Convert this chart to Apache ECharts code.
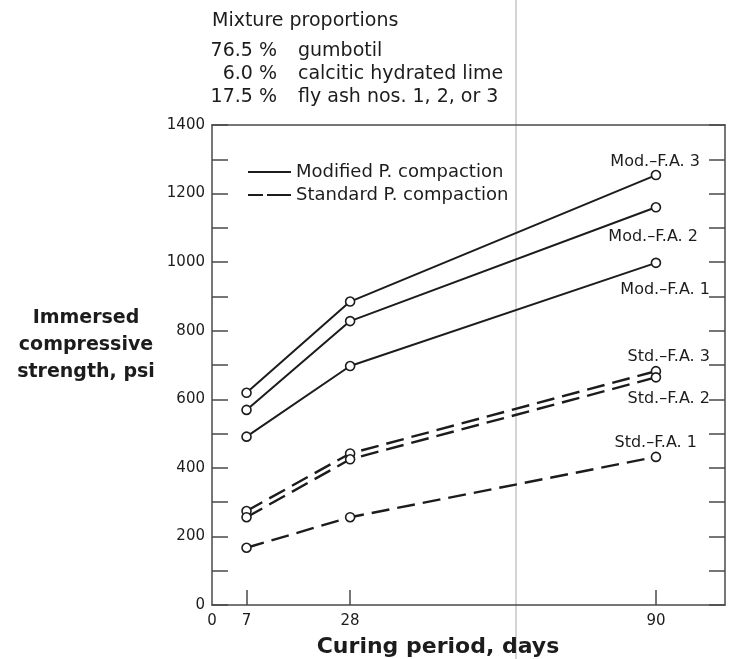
<!DOCTYPE html>
<html>
<head>
<meta charset="utf-8">
<script src="https://cdn.jsdelivr.net/npm/echarts@6/dist/echarts.min.js"></script>
<style>
  html, body { margin: 0; padding: 0; background: #fff; }
  #chart { width: 730px; height: 659px; }
</style>
</head>
<body>
<div id="chart"></div>
<script>
// Curing period (days) at which specimens were tested
const days = [7, 28, 90];

// Immersed compressive strength, psi
const modFA1 = [491, 697, 998];
const modFA2 = [569, 828, 1160];
const modFA3 = [619, 885, 1254];
const stdFA1 = [167, 256, 432];
const stdFA2 = [256, 425, 664];
const stdFA3 = [274, 442, 682];

const curveNames = ['Mod.–F.A. 3', 'Mod.–F.A. 2', 'Mod.–F.A. 1', 'Std.–F.A. 3', 'Std.–F.A. 2', 'Std.–F.A. 1'];
const curveValues = [modFA3, modFA2, modFA1, stdFA3, stdFA2, stdFA1];
const curveIsStandard = [false, false, false, true, true, true];

const legendNames = ['Modified P. compaction', 'Standard P. compaction'];

// Axis ticks and labels
const xTickValues = [7, 28, 90];
const xLabelValues = [0, 7, 28, 90];

// Mixture proportions block
const mixtureTitle = 'Mixture proportions';
const mixturePercents = ['76.5 %', '6.0 %', '17.5 %'];
const mixtureItems = ['gumbotil', 'calcitic hydrated lime', 'fly ash nos. 1, 2, or 3'];

const yTitleLines = ['Immersed', 'compressive', 'strength, psi'];
const xTitle = 'Curing period, days';

const FONT = '"DejaVu Sans", "Liberation Sans", sans-serif';
const INK = '#1c1c1c';
const AXIS = '#4a4a4a';
const DASH = [18, 8];

const chart = echarts.init(document.getElementById('chart'), null, { renderer: 'canvas' });

function curveSeries(i) {
  const std = curveIsStandard[i];
  return {
    name: curveNames[i],
    type: 'line',
    xAxisIndex: 0,
    yAxisIndex: 0,
    data: days.map((d, k) => [d, curveValues[i][k]]),
    symbol: 'circle',
    symbolSize: 9,
    itemStyle: { color: '#ffffff', borderColor: INK, borderWidth: 1.6 },
    lineStyle: { color: INK, width: std ? 2.4 : 2, type: std ? DASH : 'solid' },
    z: 3
  };
}

const series = curveNames.map((_, i) => curveSeries(i));
// Series used only for the key
series.push({
  name: legendNames[0], type: 'line', data: [], symbol: 'none',
  itemStyle: { color: INK },
  lineStyle: { color: INK, width: 2, type: 'solid' }
});
series.push({
  name: legendNames[1], type: 'line', data: [], symbol: 'none',
  itemStyle: { color: INK },
  lineStyle: { color: INK, width: 2.2, type: [15, 4, 24, 4] }
});

const axisLineStyle = { color: AXIS, width: 1.5 };

const option = {
  animation: false,
  backgroundColor: '#ffffff',
  grid: { left: 212, right: 5, top: 125, bottom: 54 },
  legend: {
    data: legendNames,
    orient: 'vertical',
    left: 242,
    top: 158,
    itemWidth: 43,
    itemHeight: 14,
    itemGap: 5,
    itemStyle: { opacity: 0 },
    textStyle: { fontFamily: FONT, fontSize: 18, color: INK },
    selectedMode: false
  },
  xAxis: [
    {
      type: 'value', min: 0, max: 104, position: 'bottom',
      axisLine: { show: true, onZero: false, lineStyle: axisLineStyle },
      axisTick: { show: true, inside: true, length: 15, customValues: xTickValues, lineStyle: axisLineStyle },
      axisLabel: { customValues: xLabelValues, fontFamily: FONT, fontSize: 15, color: INK, margin: 9 },
      splitLine: { show: false }
    },
    {
      type: 'value', min: 0, max: 104, position: 'top',
      axisLine: { show: true, onZero: false, lineStyle: axisLineStyle },
      axisTick: { show: false }, axisLabel: { show: false }, splitLine: { show: false }
    }
  ],
  yAxis: [
    {
      type: 'value', min: 0, max: 1400, interval: 100, position: 'left',
      axisLine: { show: true, onZero: false, lineStyle: axisLineStyle },
      axisTick: { show: true, inside: true, length: 16, lineStyle: axisLineStyle },
      axisLabel: {
        fontFamily: FONT, fontSize: 15, color: INK, margin: 7,
        formatter: v => (v % 200 === 0 ? String(v) : '')
      },
      splitLine: { show: false }
    },
    {
      type: 'value', min: 0, max: 1400, interval: 100, position: 'right',
      axisLine: { show: true, onZero: false, lineStyle: axisLineStyle },
      axisTick: { show: true, inside: true, length: 16, lineStyle: axisLineStyle },
      axisLabel: { show: false }, splitLine: { show: false }
    }
  ],
  series: series
};

chart.setOption(option);

// Curve names sit beside the 90-day points; offsets are [right edge dx, dy] from the point
const labelOffsets = [[44, -13], [42, 30], [54, 27], [54, -14], [54, 22], [41, -14]];

const graphics = [];

// Faint vertical crease line across the sheet
graphics.push({
  type: 'rect', silent: true, z: -10,
  shape: { x: 515, y: 0, width: 2, height: 659 },
  style: { fill: '#d4d4d4' }
});

const mixFont = '19px ' + FONT;
graphics.push({
  type: 'text', silent: true,
  style: { text: mixtureTitle, x: 212, y: 21, font: mixFont, fill: INK, textAlign: 'left', textVerticalAlign: 'middle' }
});
mixturePercents.forEach((p, i) => {
  const y = 51 + i * 23;
  graphics.push({
    type: 'text', silent: true,
    style: { text: p, x: 277, y: y, font: mixFont, fill: INK, textAlign: 'right', textVerticalAlign: 'middle' }
  });
  graphics.push({
    type: 'text', silent: true,
    style: { text: mixtureItems[i], x: 298, y: y, font: mixFont, fill: INK, textAlign: 'left', textVerticalAlign: 'middle' }
  });
});

yTitleLines.forEach((t, i) => {
  graphics.push({
    type: 'text', silent: true,
    style: { text: t, x: 86, y: 318 + i * 27, font: 'bold 19px ' + FONT, fill: INK, textAlign: 'center', textVerticalAlign: 'middle' }
  });
});

graphics.push({
  type: 'text', silent: true,
  style: { text: xTitle, x: 438, y: 647, font: 'bold 22px ' + FONT, fill: INK, textAlign: 'center', textVerticalAlign: 'middle' }
});

curveNames.forEach((name, i) => {
  const last = curveValues[i].length - 1;
  const p = chart.convertToPixel({ xAxisIndex: 0, yAxisIndex: 0 }, [days[last], curveValues[i][last]]);
  graphics.push({
    type: 'text', silent: true,
    style: {
      text: name, x: p[0] + labelOffsets[i][0], y: p[1] + labelOffsets[i][1],
      font: '16px ' + FONT, fill: INK, textAlign: 'right', textVerticalAlign: 'middle'
    }
  });
});

chart.setOption({ graphic: graphics });
</script>
</body>
</html>
